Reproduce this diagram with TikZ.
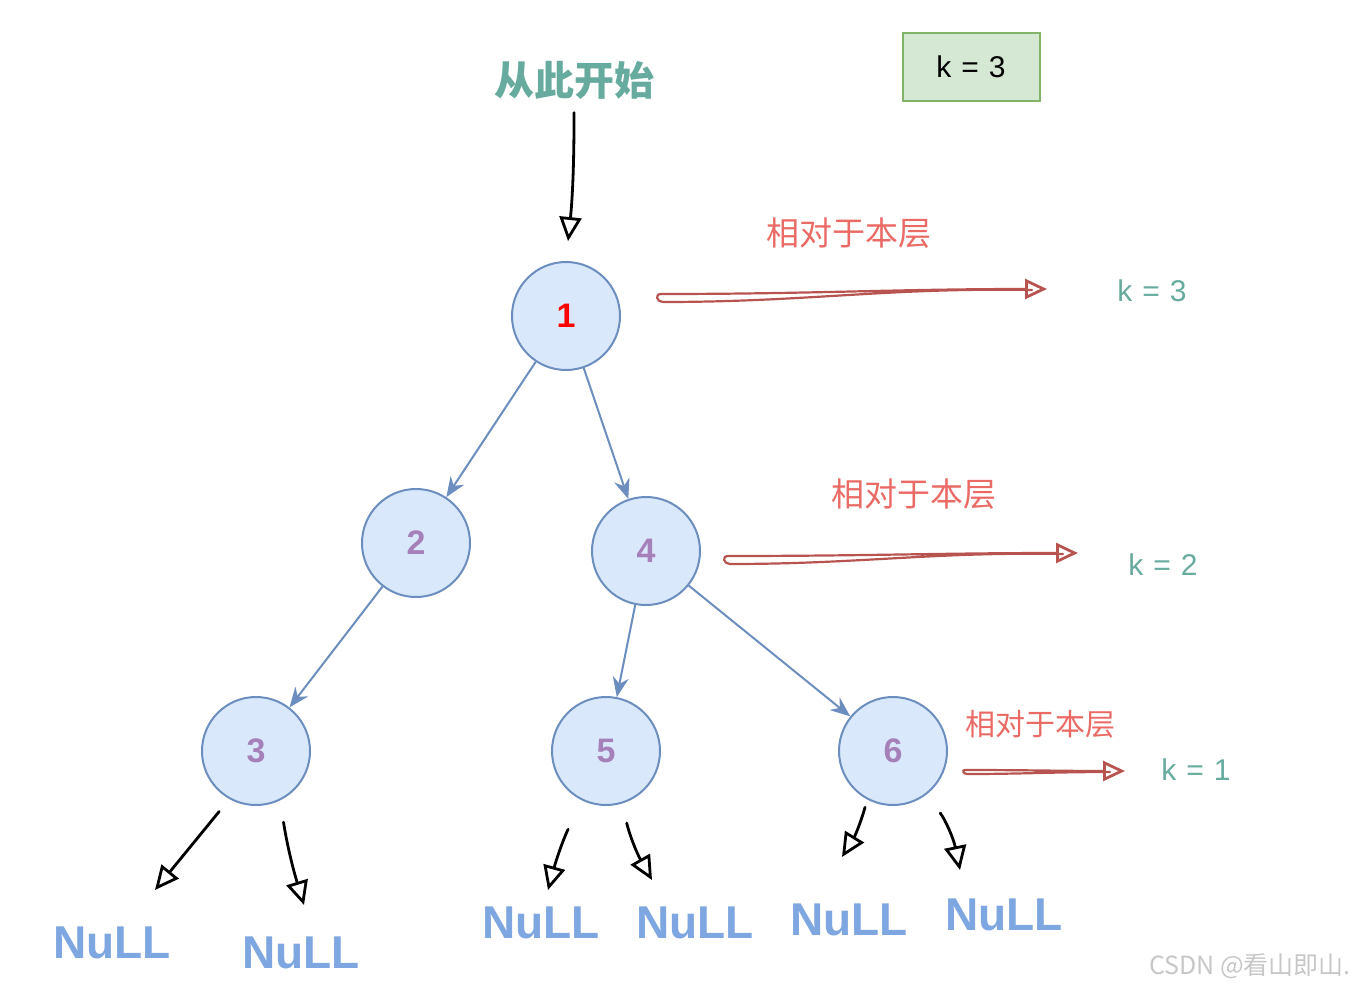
\documentclass[tikz,border=0pt]{standalone}
\usepackage{fontspec}
\setmainfont{Liberation Sans}
\newfontfamily\cjk{Noto Sans CJK SC}
\usetikzlibrary{positioning, arrows.meta, calc}

\definecolor{nodeblue}{HTML}{6C8EBF}
\definecolor{nodefill}{HTML}{DAE8FC}
\definecolor{numpurple}{HTML}{A680B8}
\definecolor{startteal}{HTML}{67AB9F}
\definecolor{layerred}{HTML}{EA6B66}
\definecolor{arrowred}{HTML}{B85450}
\definecolor{boxgreen}{HTML}{82B366}
\definecolor{boxfill}{HTML}{D5E8D4}
\definecolor{nullblue}{HTML}{7EA6E0}

\begin{document}
\begin{tikzpicture}[x=1pt, y=-1pt, on grid,
        tree/.style = {draw=nodeblue, fill=nodefill, circle, line width=2pt, minimum size=108pt, inner sep=0pt, text=numpurple, font=\fontsize{34}{36}\selectfont\bfseries},
        branch/.style = {draw=nodeblue, line width=2pt, -{Stealth[length=20pt,width=16pt]}},
        sketch/.style = {black, line width=2.8pt, line cap=round, -{Triangle[open,length=24pt,width=22pt,line width=2.8pt]}},
        redarrow/.style = {arrowred, line width=2.2pt, line cap=round, -{Triangle[open,length=22pt,width=20pt,line width=2.8pt]}},
        layertext/.style = {text=layerred, font=\cjk\fontsize{33}{36}\selectfont},
        kval/.style = {text=startteal, font=\fontsize{30}{32}\selectfont},
        nulltext/.style = {text=nullblue, font=\fontsize{46}{50}\selectfont\bfseries},
        ]
        \useasboundingbox (0,0) rectangle (1362,990);

        % k box and start label
        \node [draw=boxgreen, fill=boxfill, line width=2pt, minimum width=137pt, minimum height=67pt, font=\fontsize{30}{32}\selectfont] (kbox) at (971,67) {k\,\,=\,\,3};
        \node [text=startteal, font=\cjk\fontsize{40}{44}\selectfont\bfseries] (start) at (574,80) {从此开始};

        % tree
        \node [tree, text=red] (n1) at (566,316) {1};
        \node [tree, below left=227pt and 150pt of n1] (n2) {2};
        \node [tree, below right=235pt and 80pt of n1] (n4) {4};
        \node [tree, below left=208pt and 160pt of n2] (n3) {3};
        \node [tree, below left=200pt and 40pt of n4] (n5) {5};
        \node [tree, below right=200pt and 247pt of n4] (n6) {6};

        \draw [branch] (n1) -- (n2);
        \draw [branch] (n1) -- (n4);
        \draw [branch] (n2) -- (n3);
        \draw [branch] (n4) -- (n5);
        \draw [branch] (n4) -- (n6);

        \draw [sketch, shorten <=10pt, shorten >=20pt] (start.south) to[bend left=3] (n1.north);

        % layer notes
        \node [layertext] (lay1) at (849,233) {相对于本层};
        \node [layertext] (lay2) at (914,494) {相对于本层};
        \node [layertext, font=\cjk\fontsize{30}{33}\selectfont] (lay3) at (1040,724) {相对于本层};
        \node [kval] (k1) at (1152,291) {k\,\,=\,\,3};
        \node [kval] (k2) at (1163,565) {k\,\,=\,\,2};
        \node [kval] (k3) at (1196,770) {k\,\,=\,\,1};

        \coordinate (r1a) at (655,297);
        \coordinate (r1b) at (1047,289);
        \coordinate (r2a) at (722,559);
        \coordinate (r2b) at (1078,553);
        \coordinate (r3a) at (961,772);
        \coordinate (r3b) at (1125,771);
        \draw [redarrow] ($(r1b)+(-15,1)$) to[out=179,in=0] ($(r1a)+(8,5)$) to[out=180,in=180,looseness=2] ($(r1a)+(6,-3)$) to[out=0,in=180] (r1b);
        \draw [redarrow] ($(r2b)+(-15,1)$) to[out=179,in=0] ($(r2a)+(8,5)$) to[out=180,in=180,looseness=2] ($(r2a)+(6,-3)$) to[out=0,in=180] (r2b);
        \draw [redarrow] ($(r3b)+(-15,1)$) to[out=180,in=0] ($(r3a)+(6,2)$) to[out=180,in=180,looseness=2] ($(r3a)+(4,-2)$) to[out=0,in=180] (r3b);

        % NULL leaves
        \node [nulltext] (null1) at (112,943) {NuLL};
        \node [nulltext] (null2) at (301,953) {NuLL};
        \node [nulltext] (null3) at (541,923) {NuLL};
        \node [nulltext] (null4) at (695,923) {NuLL};
        \node [nulltext] (null5) at (849,920) {NuLL};
        \node [nulltext] (null6) at (1004,915) {NuLL};

        \coordinate (t1) at (155,890);
        \coordinate (t2) at (304,905);
        \coordinate (t3) at (548,890);
        \coordinate (t4) at (652,880);
        \coordinate (t5) at (842,857);
        \coordinate (t6) at (960,870);
        \draw [sketch, shorten <=16pt] (n3.-119) -- (t1);
        \draw [sketch, shorten <=22pt] (n3.-64) to[bend right=4] (t2);
        \draw [sketch, shorten <=32pt] (n5.-115) to[bend right=6] (t3);
        \draw [sketch, shorten <=20pt] (n5.-73) to[bend right=8] (t4);
        \draw [sketch, shorten <=8pt] (n6.-118) to[bend left=8] (t5);
        \draw [sketch, shorten <=23pt] (n6.-52) to[bend left=12] (t6);

        % watermark
        \node [text=black!22, font=\cjk\fontsize{25}{27}\selectfont] (mark) at (1250,966) {CSDN @看山即山.};
    \end{tikzpicture}
\end{document}
